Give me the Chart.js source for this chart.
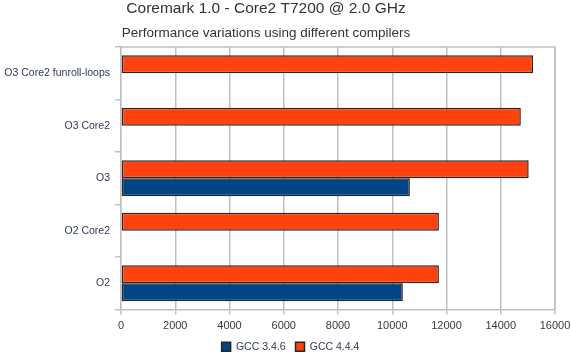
<!DOCTYPE html>
<html lang="en">
<head>
<meta charset="UTF-8">
<title>Coremark 1.0 - Core2 T7200</title>
<script src="https://cdn.jsdelivr.net/npm/chart.js@4.4.0/dist/chart.umd.min.js"></script>
<style>
  html, body { margin:0; padding:0; background:#fff; }
  #wrap { width:571px; height:352px; }
</style>
</head>
<body>
<div id="wrap"><canvas id="chart" width="571" height="352"></canvas></div>
<script>
const categories = ["O3 Core2 funroll-loops", "O3 Core2", "O3", "O2 Core2", "O2"];
const gcc346 = [null, null, 10650, null, 10390];
const gcc444 = [15190, 14740, 15030, 11720, 11720];
const xTicks = [0, 2000, 4000, 6000, 8000, 10000, 12000, 14000, 16000];
const titleText = "Coremark 1.0 - Core2 T7200 @ 2.0 GHz";
const subtitleText = "Performance variations using different compilers";

const FONT = "'Liberation Sans', Arial, sans-serif";

// titles sit left of the canvas centre in the original, so draw them by hand
const titles = {
  id: "titles",
  afterDraw(chart) {
    const c = chart.ctx;
    c.save();
    c.fillStyle = "#333333";
    c.textAlign = "center";
    c.textBaseline = "alphabetic";
    c.font = "15.5px " + FONT;
    c.fillText(titleText, 266, 13);
    c.font = "13.5px " + FONT;
    c.fillText(subtitleText, 266, 37);
    c.restore();
  }
};

// grey frame round the plot area
const frame = {
  id: "frame",
  beforeDatasetsDraw(chart) {
    const a = chart.chartArea, c = chart.ctx;
    c.save();
    c.strokeStyle = "#c0c0c0";
    c.lineWidth = 1.5;
    c.beginPath();
    c.moveTo(a.left, a.top);
    c.lineTo(a.right, a.top);
    c.lineTo(a.right, a.bottom);
    c.stroke();
    c.restore();
  }
};

// the legend sits a bit right of where chart.js centres it
const legendShift = {
  id: "legendShift",
  afterLayout(chart) {
    if (!chart.legend) return;
    chart.legend.left += 13;
    chart.legend.right += 13;
  }
};

new Chart(document.getElementById("chart"), {
  type: "bar",
  data: {
    labels: categories,
    datasets: [
      {
        label: "GCC 4.4.4",
        data: gcc444,
        backgroundColor: "#ff420e",
        borderColor: "#2b2523",
        borderWidth: 1.5,
        borderSkipped: false
      },
      {
        label: "GCC 3.4.6",
        data: gcc346,
        backgroundColor: "#004586",
        borderColor: "#2b2523",
        borderWidth: 1.5,
        borderSkipped: false
      }
    ]
  },
  options: {
    indexAxis: "y",
    responsive: false,
    animation: false,
    categoryPercentage: 0.69,
    barPercentage: 1.0,
    layout: { padding: { top: 47, right: 16, left: 0, bottom: -10 } },
    plugins: {
      title: { display: false },
      tooltip: { enabled: false },
      legend: {
        position: "bottom",
        reverse: true,
        labels: {
          boxWidth: 9,
          boxHeight: 9,
          padding: 10,
          color: "#2f3b55",
          font: { family: FONT, size: 10.5, lineHeight: 1 }
        }
      }
    },
    scales: {
      x: {
        min: 0,
        max: 16000,
        afterBuildTicks(scale) { scale.ticks = xTicks.map(v => ({ value: v })); },
        afterFit(scale) {
          scale.height = 22;
          scale.paddingRight = 0;
          scale.paddingLeft = 0;
        },
        grid: { color: "#c0c0c0", lineWidth: 1.5, tickLength: 5, drawTicks: true },
        border: { color: "#c0c0c0", width: 1.5 },
        ticks: {
          padding: 5,
          color: "#3a3a3a",
          font: { family: FONT, size: 11 },
          maxRotation: 0,
          callback: v => String(v)
        }
      },
      y: {
        afterFit(scale) { scale.width = 121; },
        grid: { drawOnChartArea: false, color: "#c0c0c0", lineWidth: 1.5, tickLength: 6 },
        border: { color: "#c0c0c0", width: 1.5 },
        ticks: {
          padding: 5,
          color: "#2f3b55",
          font: { family: FONT, size: 10.5 }
        }
      }
    }
  },
  plugins: [titles, frame, legendShift]
});
</script>
</body>
</html>
